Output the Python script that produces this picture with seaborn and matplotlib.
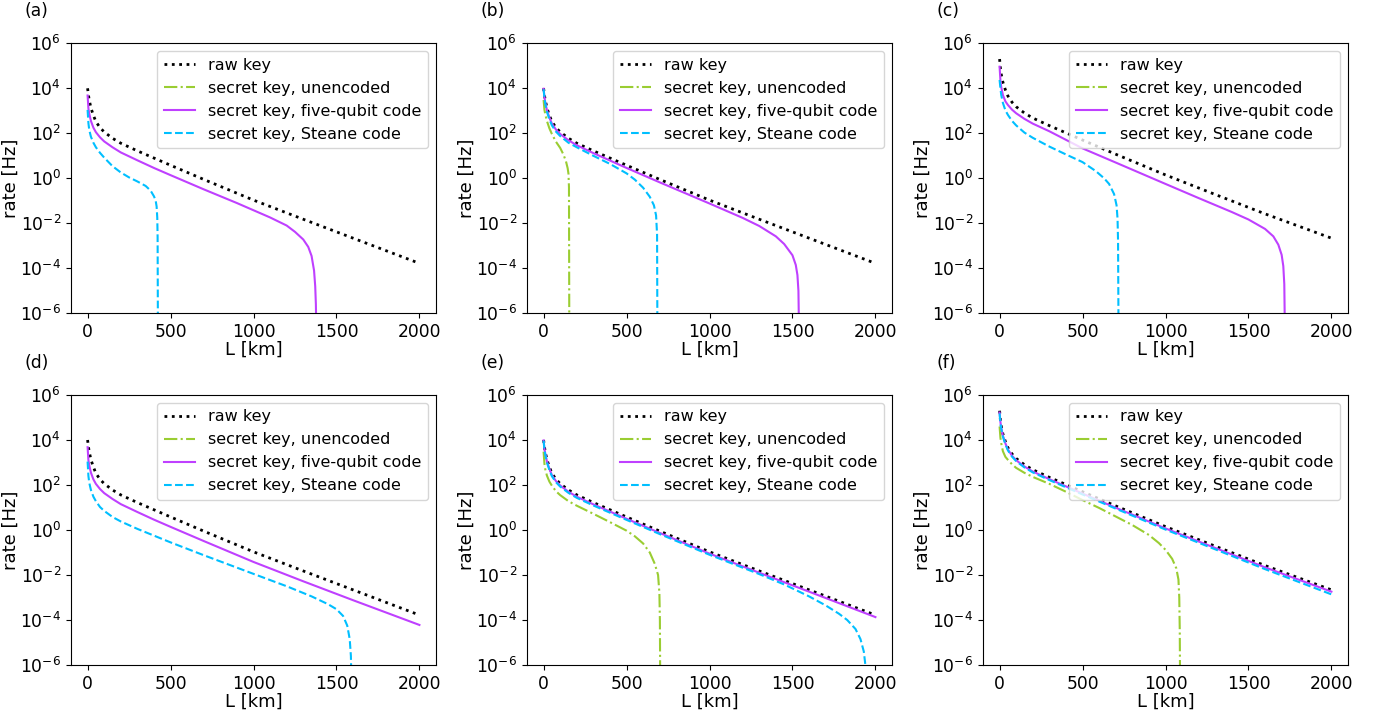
import numpy as np
import matplotlib
matplotlib.use("Agg")
import matplotlib.pyplot as plt
from matplotlib.lines import Line2D
import seaborn as sns

# Distances in km and key rates given as log10(rate / Hz).
# Points below 1e-6 Hz lie outside the axes and only close off the cut-off drops.

# raw key, panels (a), (b), (d), (e)
L_raw_lo = [0, 5, 10, 20, 35, 50, 75, 100, 150, 200, 300, 400, 500, 700, 1000, 1300, 1600, 2000]
raw_lo = [4.00, 3.70, 3.48, 3.13, 2.80, 2.52, 2.25, 2.06, 1.78, 1.56, 1.22, 0.90, 0.58, -0.05, -0.97, -1.82, -2.66, -3.78]

# raw key, panels (c), (f)
L_raw_hi = [0, 5, 10, 20, 35, 50, 75, 100, 150, 200, 300, 400, 500, 700, 1000, 1300, 1600, 1800, 2000]
raw_hi = [5.30, 4.88, 4.62, 4.27, 3.93, 3.66, 3.38, 3.18, 2.90, 2.68, 2.34, 2.02, 1.70, 1.07, 0.15, -0.72, -1.58, -2.12, -2.66]

# panel (a)
L_five_a = [0, 5, 10, 20, 35, 50, 75, 100, 150, 200, 300, 400, 500, 700, 900, 1000, 1100, 1200, 1250, 1300, 1330, 1350, 1365, 1372, 1376, 1379]
five_a = [3.68, 3.10, 2.88, 2.55, 2.25, 2.05, 1.82, 1.64, 1.38, 1.15, 0.80, 0.46, 0.14, -0.49, -1.10, -1.42, -1.74, -2.10, -2.38, -2.72, -3.05, -3.45, -4.10, -4.80, -5.60, -7.00]
L_steane_a = [0, 5, 10, 20, 35, 50, 75, 100, 150, 200, 250, 300, 350, 380, 400, 410, 416, 420, 422, 424]
steane_a = [3.04, 2.45, 2.15, 1.85, 1.58, 1.38, 1.13, 0.92, 0.54, 0.26, 0.04, -0.14, -0.34, -0.55, -0.80, -0.98, -1.25, -1.75, -2.60, -7.00]

# panel (b)
L_unenc_b = [0, 5, 10, 20, 35, 50, 75, 100, 120, 135, 145, 150, 153, 155]
unenc_b = [3.48, 3.05, 2.85, 2.55, 2.22, 1.97, 1.62, 1.35, 1.05, 0.75, 0.45, 0.20, -0.40, -7.00]
L_five_b = [0, 5, 10, 20, 35, 50, 75, 100, 150, 200, 300, 400, 500, 700, 1000, 1200, 1300, 1400, 1450, 1500, 1520, 1530, 1536, 1540]
five_b = [3.98, 3.62, 3.38, 3.03, 2.70, 2.43, 2.16, 1.97, 1.69, 1.47, 1.12, 0.79, 0.46, -0.18, -1.12, -1.76, -2.12, -2.58, -2.92, -3.42, -3.85, -4.30, -5.00, -7.00]
L_steane_b = [0, 5, 10, 20, 35, 50, 75, 100, 150, 200, 300, 400, 500, 550, 600, 640, 665, 678, 684, 686]
steane_b = [3.96, 3.58, 3.33, 2.96, 2.62, 2.35, 2.07, 1.88, 1.58, 1.38, 1.00, 0.64, 0.22, -0.06, -0.42, -0.82, -1.20, -1.65, -2.50, -7.00]

# panel (c)
L_five_c = [0, 5, 10, 20, 35, 50, 75, 100, 150, 200, 300, 400, 500, 700, 1000, 1200, 1400, 1500, 1600, 1650, 1680, 1700, 1710, 1716, 1720]
five_c = [4.96, 4.35, 4.05, 3.70, 3.42, 3.26, 3.05, 2.89, 2.64, 2.43, 2.09, 1.71, 1.33, 0.70, -0.25, -0.88, -1.50, -1.83, -2.25, -2.58, -2.95, -3.40, -3.90, -4.70, -7.00]
L_steane_c = [0, 5, 10, 20, 35, 50, 75, 100, 150, 200, 300, 400, 500, 580, 630, 660, 690, 705, 711, 714, 717]
steane_c = [4.37, 4.00, 3.70, 3.35, 3.02, 2.82, 2.55, 2.35, 2.03, 1.80, 1.41, 1.06, 0.72, 0.32, 0.00, -0.25, -0.70, -1.20, -1.80, -2.80, -7.00]

# panel (d)
L_five_d = [0, 5, 10, 20, 35, 50, 75, 100, 150, 200, 300, 400, 500, 700, 1000, 1300, 1600, 2000]
five_d = [3.68, 3.10, 2.88, 2.55, 2.25, 2.05, 1.82, 1.64, 1.38, 1.15, 0.80, 0.46, 0.14, -0.49, -1.42, -2.28, -3.12, -4.22]
L_steane_d = [0, 5, 10, 20, 35, 50, 75, 100, 150, 200, 300, 400, 500, 700, 1000, 1200, 1350, 1450, 1500, 1540, 1565, 1580, 1587, 1591]
steane_d = [3.04, 2.40, 2.10, 1.78, 1.48, 1.28, 1.02, 0.85, 0.58, 0.38, 0.05, -0.25, -0.55, -1.12, -1.95, -2.50, -2.95, -3.30, -3.52, -3.82, -4.25, -4.85, -5.60, -7.00]

# panel (e)
L_unenc_e = [0, 5, 10, 20, 35, 50, 75, 100, 150, 200, 300, 400, 500, 550, 600, 640, 670, 690, 698, 701, 703]
unenc_e = [3.48, 2.95, 2.70, 2.42, 2.15, 1.97, 1.72, 1.55, 1.28, 1.08, 0.72, 0.35, -0.03, -0.28, -0.60, -1.00, -1.50, -2.00, -2.80, -4.00, -7.00]
L_five_e = [0, 5, 10, 20, 35, 50, 75, 100, 150, 200, 300, 400, 500, 700, 1000, 1300, 1600, 2000]
five_e = [3.98, 3.62, 3.40, 3.05, 2.72, 2.44, 2.17, 1.98, 1.70, 1.48, 1.14, 0.82, 0.50, -0.13, -1.05, -1.90, -2.74, -3.87]
L_steane_e = [0, 5, 10, 20, 35, 50, 75, 100, 150, 200, 300, 400, 500, 700, 1000, 1300, 1450, 1600, 1700, 1780, 1830, 1880, 1910, 1930, 1938, 1942]
steane_e = [3.97, 3.58, 3.36, 3.00, 2.67, 2.39, 2.12, 1.93, 1.65, 1.43, 1.09, 0.77, 0.45, -0.18, -1.10, -1.96, -2.42, -2.95, -3.35, -3.72, -4.00, -4.40, -4.85, -5.40, -5.90, -7.00]

# panel (f)
L_unenc_f = [0, 5, 10, 20, 35, 50, 75, 100, 150, 200, 300, 400, 500, 600, 700, 800, 900, 960, 1000, 1040, 1065, 1078, 1083, 1086, 1088]
unenc_f = [4.60, 4.10, 3.85, 3.50, 3.25, 3.12, 2.92, 2.76, 2.54, 2.36, 2.05, 1.70, 1.33, 0.98, 0.60, 0.22, -0.22, -0.58, -0.88, -1.28, -1.70, -2.20, -3.00, -4.50, -7.00]
L_five_f = [0, 5, 10, 20, 35, 50, 75, 100, 150, 200, 300, 400, 500, 700, 1000, 1300, 1600, 1800, 2000]
five_f = [5.22, 4.80, 4.54, 4.19, 3.85, 3.58, 3.30, 3.10, 2.82, 2.60, 2.26, 1.94, 1.62, 0.99, 0.07, -0.80, -1.66, -2.20, -2.74]
L_steane_f = [0, 5, 10, 20, 35, 50, 75, 100, 150, 200, 300, 400, 500, 700, 1000, 1300, 1600, 1800, 2000]
steane_f = [5.18, 4.76, 4.50, 4.15, 3.81, 3.54, 3.26, 3.06, 2.78, 2.56, 2.22, 1.90, 1.58, 0.95, 0.02, -0.86, -1.74, -2.30, -2.86]

panel_labels = ["(a)", "(b)", "(c)", "(d)", "(e)", "(f)"]
series_labels = ["raw key", "secret key, unencoded",
                 "secret key, five-qubit code", "secret key, Steane code"]
x_ticks = [0, 500, 1000, 1500, 2000]
y_ticks = [1e-6, 1e-4, 1e-2, 1e0, 1e2, 1e4, 1e6]

styles = {
    "raw": dict(color="black", linestyle=":", linewidth=2.0),
    "unenc": dict(color="yellowgreen", linestyle="-.", linewidth=1.5),
    "five": dict(color="#bf40ff", linestyle="-", linewidth=1.5),
    "steane": dict(color="deepskyblue", linestyle="--", linewidth=1.5),
}
order = ["raw", "unenc", "five", "steane"]

panels = [
    {"raw": (L_raw_lo, raw_lo), "five": (L_five_a, five_a), "steane": (L_steane_a, steane_a)},
    {"raw": (L_raw_lo, raw_lo), "unenc": (L_unenc_b, unenc_b), "five": (L_five_b, five_b), "steane": (L_steane_b, steane_b)},
    {"raw": (L_raw_hi, raw_hi), "five": (L_five_c, five_c), "steane": (L_steane_c, steane_c)},
    {"raw": (L_raw_lo, raw_lo), "five": (L_five_d, five_d), "steane": (L_steane_d, steane_d)},
    {"raw": (L_raw_lo, raw_lo), "unenc": (L_unenc_e, unenc_e), "five": (L_five_e, five_e), "steane": (L_steane_e, steane_e)},
    {"raw": (L_raw_hi, raw_hi), "unenc": (L_unenc_f, unenc_f), "five": (L_five_f, five_f), "steane": (L_steane_f, steane_f)},
]

fig = plt.figure(figsize=(13.8, 7.11), dpi=100)
col_left = [71 / 1380, 527 / 1380, 983 / 1380]
row_bottom = [1 - 313.3 / 711, 1 - 665 / 711]
w, h = 365 / 1380, 270 / 711

for i, curves in enumerate(panels):
    r, c = divmod(i, 3)
    ax = fig.add_axes([col_left[c], row_bottom[r], w, h])
    for key in order:
        if key not in curves:
            continue
        L, lg = curves[key]
        sns.lineplot(x=np.asarray(L, float), y=np.power(10.0, np.asarray(lg, float)),
                     ax=ax, estimator=None, errorbar=None, sort=False, **styles[key])
    ax.set_yscale("log")
    ax.set_ylim(1e-6, 1e6)
    ax.set_xlim(-100, 2100)
    ax.set_xticks(x_ticks)
    ax.set_yticks(y_ticks)
    ax.minorticks_off()
    ax.tick_params(labelsize=12.3)
    ax.set_xlabel("L [km]", fontsize=13, labelpad=0)
    ax.set_ylabel("rate [Hz]", fontsize=13, labelpad=0.5)
    for s in ax.spines.values():
        s.set_color("black")
    handles = [Line2D([], [], **styles[k]) for k in order]
    ax.legend(handles, series_labels, loc="upper right", fontsize=11.5)
    ax.text(-0.127, 1.118, panel_labels[i], transform=ax.transAxes,
            fontsize=12.3, va="center", ha="left")

fig.savefig("out.png", dpi=100)
